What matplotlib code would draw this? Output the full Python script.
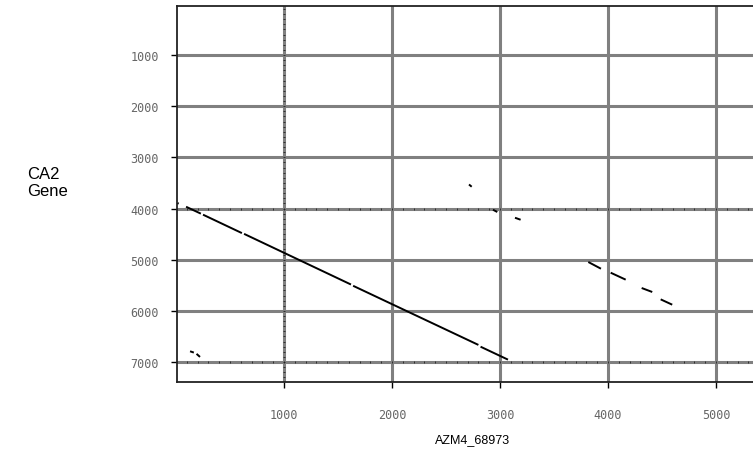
import numpy as np
import matplotlib
matplotlib.use("Agg")
import matplotlib.pyplot as plt

# ── Data: dot plot hit segments (x = AZM4_68973, y = CA2 Gene) ───────────────

seg_x0 = [93, 250, 630, 1640, 2820, 2713, 2935, 3139, 3818, 4025, 4312, 4488, 130, 190, 15]
seg_x1 = [230, 610, 1620, 2800, 3074, 2738, 2975, 3191, 3935, 4164, 4410, 4595, 165, 222, 25]
seg_y0 = [3965, 4120, 4495, 5510, 6700, 3530, 4023, 4180, 5045, 5254, 5553, 5775, 6790, 6840, 3895]
seg_y1 = [4100, 4480, 5485, 6665, 6953, 3574, 4068, 4219, 5176, 5390, 5631, 5879, 6815, 6900, 3905]

x_ticks = [1000, 2000, 3000, 4000, 5000]
y_ticks = [1000, 2000, 3000, 4000, 5000, 6000, 7000]

X_LABEL = "AZM4_68973"
Y_LABEL = "CA2\nGene"

GRID_GRAY = "#808080"

# ── Figure ────────────────────────────────────────────────────────────────────

fig = plt.figure(figsize=(7.53, 4.52), dpi=100)
ax = fig.add_axes([177 / 753, 69 / 452, 576 / 753, 376 / 452])

ax.set_xlim(9, 5343)
ax.set_ylim(7390, 42)

for xv in x_ticks:
    ax.axvline(xv, color=GRID_GRAY, linewidth=2.2, zorder=1)
for yv in y_ticks:
    ax.axhline(yv, color=GRID_GRAY, linewidth=2.2, zorder=1)

# faint black ticks seen along some grid lines
minor = np.arange(100, 5400, 100)
for yv in [4000, 7000]:
    ax.plot(minor, np.full(len(minor), yv), linestyle="none", marker="|",
            markersize=1.6, markeredgewidth=0.6, color="#222222", zorder=2)
minor_y = np.arange(100, 7400, 100)
ax.plot(np.full(len(minor_y), 1000), minor_y, linestyle="none", marker="_",
        markersize=1.6, markeredgewidth=0.6, color="#222222", zorder=2)

for x0, x1, y0, y1 in zip(seg_x0, seg_x1, seg_y0, seg_y1):
    ax.plot([x0, x1], [y0, y1], color="black", linewidth=1.4,
            solid_capstyle="butt", zorder=3)

ax.set_xticks(x_ticks)
ax.set_yticks(y_ticks)
ax.set_xticklabels([str(v) for v in x_ticks])
ax.set_yticklabels([str(v) for v in y_ticks])
ax.tick_params(axis="both", labelsize=8.5, labelcolor="#666666", color="black",
               length=4, width=1)
ax.tick_params(axis="x", pad=15)
ax.tick_params(axis="y", pad=9)

for lbl in ax.get_xticklabels() + ax.get_yticklabels():
    lbl.set_fontfamily("DejaVu Sans Mono")

for side in ["left", "bottom", "top"]:
    ax.spines[side].set_color("#222222")
    ax.spines[side].set_linewidth(1.3)
ax.spines["right"].set_visible(False)

fig.text(27 / 753, 1 - 183 / 452, Y_LABEL, fontsize=12, family="Liberation Sans",
         ha="left", va="center", linespacing=1.15)
fig.text(473 / 753, 1 - 440 / 452, X_LABEL, fontsize=9, family="Liberation Sans",
         ha="center", va="center")

fig.savefig("out.png", dpi=100)
